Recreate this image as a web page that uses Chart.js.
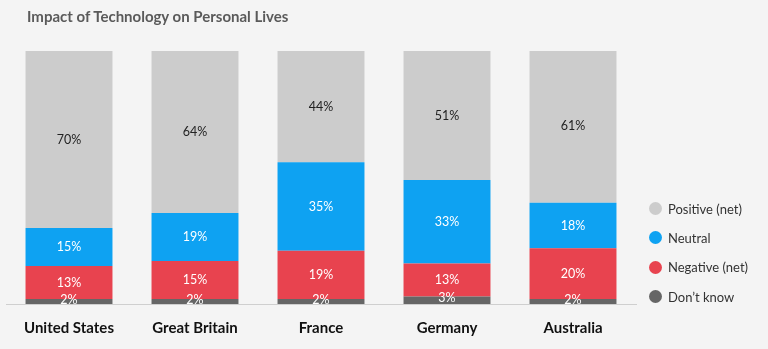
<!DOCTYPE html>
<html>
<head>
<meta charset="utf-8">
<script src="https://cdn.jsdelivr.net/npm/chart.js@4"></script>
<style>
  html, body { margin: 0; padding: 0; background: #f4f4f4; }
  #wrap { position: relative; width: 768px; height: 349px; font-family: Lato, sans-serif; }
  #title { position: absolute; left: 27px; top: 7px; font-size: 15px; font-weight: bold; color: #5a5a5a; }
  #legend { position: absolute; left: 649px; top: 194px; }
  .item { height: 29.3px; display: flex; align-items: center; font-size: 13px; color: #333; }
  .dot { width: 13px; height: 13px; border-radius: 50%; margin-right: 6px; }
</style>
</head>
<body>
<div id="wrap">
  <canvas id="chart" width="768" height="349"></canvas>
  <div id="title">Impact of Technology on Personal Lives</div>
  <div id="legend"></div>
</div>
<script>
const countries = ['United States', 'Great Britain', 'France', 'Germany', 'Australia'];
const dontKnow = [2, 2, 2, 3, 2];
const negative = [13, 15, 19, 13, 20];
const neutral = [15, 19, 35, 33, 18];
const positive = [70, 64, 44, 51, 61];

const seriesNames = ['Don\u2019t know', 'Negative (net)', 'Neutral', 'Positive (net)'];
const seriesColors = ['#666666', '#e8434f', '#0ea2f2', '#cccccc'];
const labelColors = ['#ffffff', '#ffffff', '#ffffff', '#222222'];

// etiket persen di tengah tiap segmen
const segmentLabels = {
    id: 'segmentLabels',
    afterDatasetsDraw(chart) {
        const ctx = chart.ctx;
        ctx.save();
        ctx.font = '12.5px Lato, sans-serif';
        ctx.textAlign = 'center';
        ctx.textBaseline = 'middle';
        chart.data.datasets.forEach((ds, i) => {
            const meta = chart.getDatasetMeta(i);
            ctx.fillStyle = labelColors[i];
            meta.data.forEach((bar, j) => {
                let y = (bar.y + bar.base) / 2;
                if (ds.data[j] <= 3) y -= 2;
                ctx.fillText(ds.data[j] + '%', bar.x, y);
            });
        });
        ctx.restore();
    }
};

const values = [dontKnow, negative, neutral, positive];

new Chart(document.getElementById('chart'), {
    type: 'bar',
    data: {
        labels: countries,
        datasets: values.map((v, i) => ({
            label: seriesNames[i],
            data: v,
            backgroundColor: seriesColors[i],
            borderWidth: 0,
            barPercentage: 0.69,
            categoryPercentage: 1
        }))
    },
    options: {
        responsive: false,
        animation: false,
        layout: { padding: { left: 6, right: 132, top: 51, bottom: -3 } },
        scales: {
            x: {
                stacked: true,
                grid: { display: false, drawTicks: false },
                border: { display: true, color: '#cfcfcf', width: 1 },
                ticks: { padding: 15, color: '#111', font: { family: 'Lato', size: 15, weight: 'bold' } }
            },
            y: {
                stacked: true,
                display: false,
                min: 0,
                max: 100
            }
        },
        plugins: {
            legend: { display: false },
            tooltip: { enabled: false }
        }
    },
    plugins: [segmentLabels]
});

// legenda manual, urutan dibalik
const legendEl = document.getElementById('legend');
for (let i = seriesNames.length - 1; i >= 0; i--) {
    const row = document.createElement('div');
    row.className = 'item';
    row.innerHTML = '<span class="dot" style="background:' + seriesColors[i] + '"></span>' + seriesNames[i];
    legendEl.appendChild(row);
}
</script>
</body>
</html>
